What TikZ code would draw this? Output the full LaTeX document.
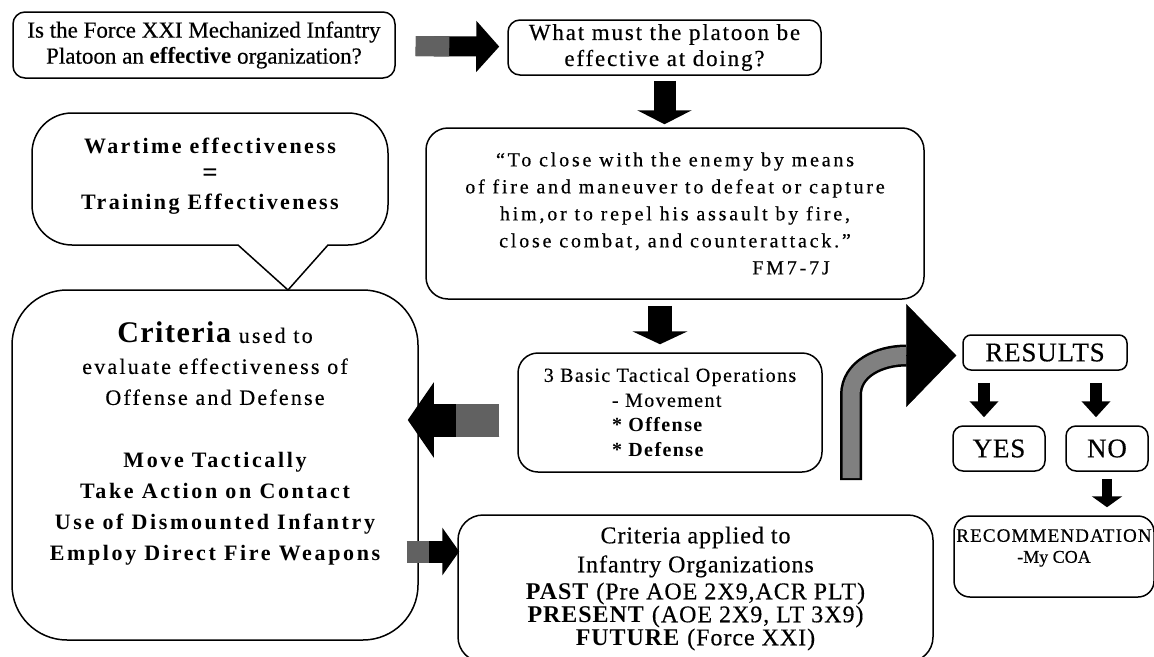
\documentclass[tikz,border=0pt]{standalone}
\usepackage{fontspec}
\setmainfont{Liberation Serif}[UprightFeatures={FakeBold=0.4}]
\usetikzlibrary{arrows.meta,positioning,calc}
\newcommand{\fs}[2]{\fontsize{#1}{#2}\selectfont}
\newcommand{\ls}[1]{\addfontfeature{LetterSpace=#1}}
\tikzset{
box/.style = {draw, rectangle, line width=1.5pt, align=center, inner sep=0pt},
blk/.style = {line width=#1, draw=black},
graytail/.style = {postaction={draw=black!62, arrows=-, shorten >=#1}}
}
\begin{document}
\begin{tikzpicture}[x=1pt, y=1pt]
\useasboundingbox (0,0) rectangle (1154,-656);
% question and what the platoon does
\node[box, rounded corners=12pt, minimum width=382pt, minimum height=66pt, font=\fs{23}{26}] (q1) at (204,-45) {Is the Force XXI Mechanized Infantry\\Platoon an \textbf{effective} organization?};
\node[box, rounded corners=12pt, minimum width=313pt, minimum height=55pt, font=\fs{23}{26}\ls{8}] (q2) at (664.5,-47.5) {What must the platoon be\\effective at doing?};
\node[box, rounded corners=22pt, minimum width=498pt, minimum height=171pt, font=\fs{20}{27}\ls{14}] (quote) at (675,-213.5) {“To close with the enemy by means\\of fire and maneuver to defeat or capture\\him,or to repel his assault by fire,\\close combat, and counterattack.”\\\hspace*{232pt}FM7-7J};
% speech bubble
\node[font=\fs{22}{28}\bfseries\ls{11}, align=center] (bubble) at (210,-176) {Wartime effectiveness\\{\fs{27}{28}=}\\Training Effectiveness};
\draw[line width=1.5pt] (288,-290) -- (328,-245) [rounded corners=40pt] -- (388,-245) -- (388,-113) -- (32,-113) -- (32,-245) [sharp corners] -- (238,-245) -- cycle;
% criteria
\node[box, rounded corners=55pt, minimum width=406pt, minimum height=350pt, font=\fs{22}{31}\ls{10}] (crit) at (215,-465) {{\fs{30}{31}\bfseries\ls{5}Criteria} used to\\evaluate effectiveness of\\Offense and Defense\\[32pt]{\bfseries\ls{12}Move Tactically}\\{\bfseries\ls{12}Take Action on Contact}\\{\bfseries\ls{12}Use of Dismounted Infantry}\\{\bfseries\ls{12}Employ Direct Fire Weapons}\\[16pt]\mbox{}};
\node[box, rounded corners=20pt, minimum width=304pt, minimum height=119pt, font=\fs{20}{25}\ls{7}] (tac) at (670,-412.5) {3 Basic Tactical Operations\\\makebox[116pt][l]{- Movement}\\\makebox[116pt][l]{\bfseries\ls{7}* Offense}\\\makebox[116pt][l]{\bfseries\ls{7}* Defense}};
\node[box, rounded corners=25pt, minimum width=475pt, minimum height=147pt, font=\fs{24}{23}\ls{4}] (bot) at (695.5,-588.5) {Criteria applied to\\[6pt]Infantry Organizations\\[4pt]\textbf{PAST} (Pre AOE 2X9,ACR PLT)\\\textbf{PRESENT} (AOE 2X9, LT 3X9)\\\textbf{FUTURE} (Force XXI)};
% results
\node[box, rounded corners=8pt, minimum width=164pt, minimum height=35pt, font=\fs{27}{30}\ls{3}] (res) at (1045,-352.5) {RESULTS};
\node[box, rounded corners=10pt, minimum width=92pt, minimum height=45pt, font=\fs{27}{30}\ls{3}] (yes) at (999,-448.5) {YES};
\node[box, rounded corners=10pt, minimum width=82pt, minimum height=45pt, font=\fs{27}{30}\ls{3}] (no) at (1107,-448.5) {NO};
\node[box, rounded corners=16pt, minimum width=200pt, minimum height=81pt, font=\fs{19}{21}] (rec) at (1054,-556.5) {{\ls{6}RECOMMENDATION}\\{\fs{18}{21}-My COA}\\\mbox{}};
% block arrows
\draw[blk=20pt, -{Triangle[length=23pt,width=50pt]}, shorten <=20pt, shorten >=8pt, graytail=58pt] (q1) -- (q2);
\draw[blk=22pt, -{Triangle[length=14pt,width=54pt]}, shorten <=5pt, shorten >=3pt] (q2.south) -- (q2.south |- quote.north);
\draw[blk=24pt, -{Triangle[length=13pt,width=55pt]}, shorten <=6pt, shorten >=8pt] ([xshift=-15pt]quote.south) -- ([xshift=-10pt]tac.north);
\draw[blk=33pt, -{Triangle[length=26pt,width=74pt]}, shorten <=18pt, shorten >=-11pt, graytail=37pt] ([yshift=-7.5pt]tac.west) -- ([yshift=-7.5pt]tac.west -| crit.east);
\draw[blk=22pt, -{Triangle[length=17pt,width=47pt]}, shorten <=-12pt, shorten >=-2pt, graytail=28pt] ([yshift=37pt]bot.west -| crit.east) -- ([yshift=37pt]bot.west);
\draw[blk=12pt, -{Triangle[length=16pt,width=28pt]}, shorten <=12pt, shorten >=8pt] ([xshift=-61pt]res.south) -- ([xshift=-15pt]yes.north);
\draw[blk=12pt, -{Triangle[length=16pt,width=28pt]}, shorten <=12pt, shorten >=8pt] ([xshift=51pt]res.south) -- ([xshift=-11pt]no.north);
\draw[blk=10pt, -{Triangle[length=11pt,width=30pt]}, shorten <=7pt, shorten >=8pt] (no.south) -- (no.south |- rec.north);
% turning arrow
\coordinate (turn) at (851,-480);
\draw[line width=22pt] (turn) -- ++(0,85) to[out=90,in=180] ([xshift=-56pt,yshift=-3pt]res.west);
\draw[line width=17pt, draw=black!50] ([yshift=2pt]turn) -- ++(0,83) to[out=90,in=180] ([xshift=-56pt,yshift=-3pt]res.west);
\draw[-{Triangle[length=50pt,width=103pt]}] ([xshift=-56pt,yshift=-3pt]res.west) -- ([xshift=-6pt,yshift=-3pt]res.west);
\end{tikzpicture}
\end{document}
